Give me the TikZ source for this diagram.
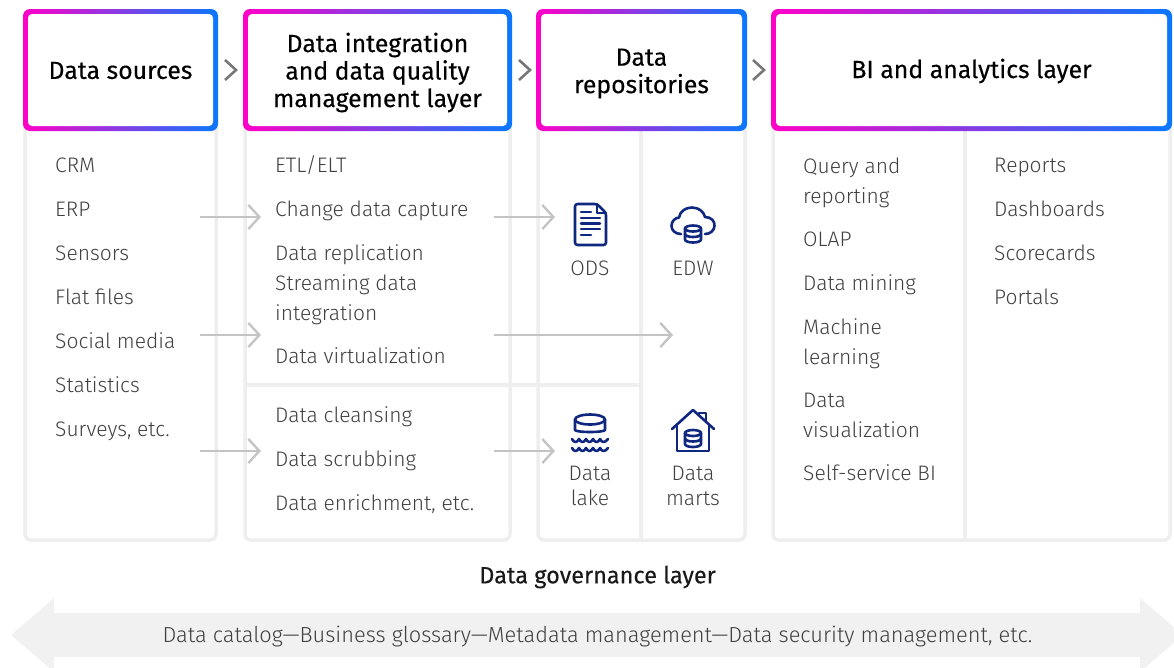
\documentclass[tikz,border=0pt]{standalone}
\usepackage{fontspec}
\setmainfont{Fira Sans Light}
\newfontfamily\headfont[FakeBold=0.25]{Fira Sans}
\usetikzlibrary{arrows.meta}
\definecolor{magentaedge}{HTML}{FF00C8}
\definecolor{purpleedge}{HTML}{8E35DC}
\definecolor{blueedge}{HTML}{0A78FF}
\definecolor{colline}{HTML}{EEEEEE}
\definecolor{flowline}{HTML}{C4C4C4}
\definecolor{chevline}{HTML}{787878}
\definecolor{bodytext}{HTML}{404040}
\definecolor{iconblue}{HTML}{10277F}
\definecolor{govfill}{HTML}{F1F1F1}
\tikzset{
  gradbox/.style={rounded corners=7, left color=magentaedge, middle color=purpleedge, right color=blueedge, minimum height=122, inner sep=0},
  headbox/.style={rounded corners=4, fill=white, minimum height=112, inner sep=0},
  headtext/.style={inner sep=0, align=center, font=\headfont\fontsize{24.8}{27.5}\selectfont},
  colbox/.style={draw=colline, line width=3.5, rounded corners=6, minimum height=425, inner sep=0},
  item/.style={anchor=west, align=left, inner sep=0, text=bodytext, font=\fontsize{21}{29.5}\selectfont, execute at begin node=\strut, execute at end node=\strut},
  icontext/.style={item, anchor=center, align=center},
  marttext/.style={icontext, font=\fontsize{21}{25}\selectfont},
  divider/.style={draw=colline, line width=3.5},
  flow/.style={draw=flowline, line width=2.4, -{Straight Barb[length=11, width=24, line width=2.4]}},
  chevron/.style={draw=chevline, line width=2.6},
  iconline/.style={draw=iconblue, line width=2.6, line join=round, line cap=round},
  dbstack/.pic={
    \path[iconline, fill=white] (-8,-5) arc[start angle=180, end angle=360, x radius=8, y radius=3] -- (8,6) arc[start angle=0, end angle=180, x radius=8, y radius=3] -- cycle;
    \path[iconline] (-8,-5) arc[start angle=180, end angle=0, x radius=8, y radius=3];
    \path[iconline] (-8,0.5) arc[start angle=180, end angle=0, x radius=8, y radius=3];
  }
}
\begin{document}
\begin{tikzpicture}[x=1pt,y=-1pt]
\useasboundingbox (0,0) rectangle (1174,667);
\node[colbox, minimum width=191] (sourcescol) at (120.5,327.5) {};
\node[colbox, minimum width=265] (integrationcol) at (377.5,327.5) {};
\node[colbox, minimum width=207] (repocol) at (641.5,327.5) {};
\node[colbox, minimum width=397] (bicol) at (971.5,327.5) {};
\path[divider] (245,385) -- (641,385);
\path[divider] (641,125) -- (641,540);
\path[divider] (965,125) -- (965,540);
\node[gradbox, minimum width=195] (sourcesedge) at (120.5,70) {};
\node[headbox, minimum width=185] (sourcesinner) at (sourcesedge) {};
\node[headtext] (sources) at (120.5,70.5) {Data sources};
\node[gradbox, minimum width=269] (integrationedge) at (377.5,70) {};
\node[headbox, minimum width=259] (integrationinner) at (integrationedge) {};
\node[headtext] (integration) at (377.5,72.5) {Data integration\\and data quality\\management layer};
\node[gradbox, minimum width=211] (repoedge) at (641.5,70) {};
\node[headbox, minimum width=201] (repoinner) at (repoedge) {};
\node[headtext] (repo) at (641.5,73.5) {Data\\repositories};
\node[gradbox, minimum width=401] (biedge) at (971.5,70) {};
\node[headbox, minimum width=391] (biinner) at (biedge) {};
\node[headtext] (bi) at (971.5,71) {BI and analytics layer};
\foreach \name/\x in {chevone/225,chevtwo/519,chevthree/753} {
  \coordinate (\name a) at (\x,60);
  \coordinate (\name b) at (\x+11,70);
  \coordinate (\name c) at (\x,80);
  \path[chevron] (\name a) -- (\name b) -- (\name c);
}
\node[item] (crm) at (55,167) {CRM};
\node[item] (erp) at (55,211) {ERP};
\node[item] (sensors) at (55,255) {Sensors};
\node[item] (flat) at (55,299) {Flat files};
\node[item] (social) at (55,343) {Social media};
\node[item] (statistics) at (55,387) {Statistics};
\node[item] (surveys) at (55,431) {Surveys, etc.};
\node[item] (etl) at (275,167) {ETL/ELT};
\node[item] (cdc) at (275,211) {Change data capture};
\node[item] (replication) at (275,255) {Data replication};
\node[item] (streaming) at (275,302) {Streaming data\\integration};
\node[item] (virtualization) at (275,358) {Data virtualization};
\node[item] (cleansing) at (275,417) {Data cleansing};
\node[item] (scrubbing) at (275,461) {Data scrubbing};
\node[item] (enrichment) at (275,505) {Data enrichment, etc.};
\node[icontext] (ods) at (590,270) {ODS};
\node[icontext] (edw) at (693,270) {EDW};
\node[marttext] (lake) at (590,489.5) {Data\\lake};
\node[marttext] (marts) at (693,489.5) {Data\\marts};
\node[item] (query) at (803,185) {Query and\\reporting};
\node[item] (olap) at (803,241) {OLAP};
\node[item] (mining) at (803,285) {Data mining};
\node[item] (ml) at (803,346) {Machine\\learning};
\node[item] (visualization) at (803,419.5) {Data\\visualization};
\node[item] (selfservice) at (803,475) {Self-service BI};
\node[item] (reports) at (994,167) {Reports};
\node[item] (dashboards) at (994,211) {Dashboards};
\node[item] (scorecards) at (994,255) {Scorecards};
\node[item] (portals) at (994,299) {Portals};
\coordinate (srcout1) at (200,217);
\coordinate (intin1) at (261,217);
\coordinate (intout1) at (494,217);
\coordinate (odsin) at (555,217);
\coordinate (srcout2) at (200,335);
\coordinate (intin2) at (261,335);
\coordinate (intout2) at (494,335);
\coordinate (edwin) at (673,335);
\coordinate (srcout3) at (200,451);
\coordinate (intin3) at (261,451);
\coordinate (intout3) at (494,451);
\coordinate (lakein) at (555,451);
\path[flow] (srcout1) -- (intin1);
\path[flow] (intout1) -- (odsin);
\path[flow] (srcout2) -- (intin2);
\path[flow] (intout2) -- (edwin);
\path[flow] (srcout3) -- (intin3);
\path[flow] (intout3) -- (lakein);
% ods icon
\path[iconline, rounded corners=2.5] (597,204) -- (575,204) -- (575,245) -- (606,245) -- (606,213) -- cycle;
\path[iconline] (597,204) -- (597,213) -- (606,213);
\path[iconline] (581,212) -- (591,212);
\path[iconline] (581,218) -- (600,218);
\path[iconline] (581,223.5) -- (600,223.5);
\path[iconline] (581,229) -- (600,229);
\path[iconline] (581,235) -- (591,235);
% edw icon
\path[iconline] (681,234) .. controls (675,234) and (671.5,230) .. (671.5,226) .. controls (671.5,221) and (675,218) .. (679,217.5) .. controls (680,211) and (686,207.5) .. (692,207.5) .. controls (699,207.5) and (704,212) .. (705,217) .. controls (711,217) and (715,221) .. (714.5,226) .. controls (714,231) and (710,234) .. (705,234);
\pic at (693,233.5) {dbstack};
% lake icon
\path[iconline] (575,419.5) arc[start angle=180, end angle=-180, x radius=15, y radius=5];
\path[iconline] (575,419.5) -- (575,430) arc[start angle=180, end angle=0, x radius=15, y radius=2] -- (605,419.5);
\foreach \y in {439,448} {
  \path[iconline] (572,\y) .. controls (574,\y+4) and (577,\y+4) .. (579,\y) .. controls (581,\y+4) and (584,\y+4) .. (586,\y) .. controls (588,\y+4) and (591,\y+4) .. (593,\y) .. controls (595,\y+4) and (598,\y+4) .. (600,\y) .. controls (602,\y+4) and (605,\y+4) .. (608,\y);
}
% marts icon
\path[iconline] (672,429) -- (693,410) -- (714,429);
\path[iconline] (677,425) -- (677,451) -- (709,451) -- (709,425);
\path[iconline] (699,414) -- (699,413) -- (706,413) -- (706,421);
\pic at (693,438) {dbstack};
\node[font=\headfont\fontsize{23.5}{28}\selectfont, text=black!90, inner sep=0] (governance) at (597.5,577) {Data governance layer};
\path[fill=govfill] (11,635) -- (54,598) -- (54,613) -- (1140,613) -- (1140,598) -- (1183,635) -- (1140,672) -- (1140,657) -- (54,657) -- (54,672) -- cycle;
\node[font=\fontsize{21.8}{26}\selectfont, text=bodytext, inner sep=0] (catalog) at (597.5,637) {Data catalog---Business glossary---Metadata management---Data security management, etc.};
\end{tikzpicture}
\end{document}
